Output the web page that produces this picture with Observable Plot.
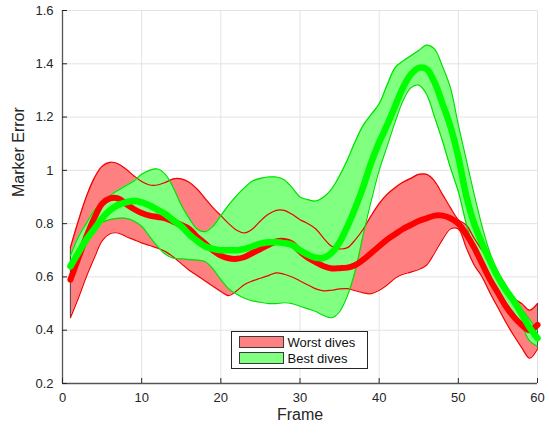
<!DOCTYPE html>
<html>
<head>
<meta charset="utf-8">
<script src="https://cdn.jsdelivr.net/npm/d3@7"></script>
<script src="https://cdn.jsdelivr.net/npm/@observablehq/plot@0.6"></script>
<style>
  html, body { margin: 0; padding: 0; background: #fff; }
  svg { display: block; }
</style>
</head>
<body>
<div id="chart"></div>
<script>
// Frame index of each sample
const frames = d3.range(1, 61);

// Worst dives: mean marker error and the shaded band around it
const worstMean = [
  0.59, 0.67, 0.75, 0.82, 0.875, 0.895, 0.895, 0.875, 0.855, 0.84,
  0.83, 0.825, 0.82, 0.807, 0.795, 0.78, 0.75, 0.725, 0.70, 0.68,
  0.67, 0.668, 0.675, 0.69, 0.705, 0.72, 0.733, 0.735, 0.725, 0.695,
  0.672, 0.655, 0.64, 0.632, 0.633, 0.635, 0.645, 0.665, 0.69, 0.715,
  0.74, 0.76, 0.78, 0.795, 0.81, 0.82, 0.83, 0.83, 0.82, 0.80,
  0.76, 0.71, 0.65, 0.59, 0.54, 0.49, 0.45, 0.42, 0.40, 0.42
];
const worstUpper = [
  0.71, 0.81, 0.90, 0.97, 1.015, 1.03, 1.025, 1.005, 0.98, 0.958,
  0.945, 0.945, 0.955, 0.968, 0.968, 0.955, 0.93, 0.895, 0.86, 0.83,
  0.80, 0.775, 0.765, 0.78, 0.81, 0.835, 0.85, 0.85, 0.835, 0.815,
  0.80, 0.78, 0.745, 0.715, 0.705, 0.71, 0.74, 0.78, 0.83, 0.875,
  0.91, 0.935, 0.955, 0.97, 0.985, 0.985, 0.96, 0.91, 0.86, 0.815,
  0.795, 0.745, 0.70, 0.65, 0.60, 0.555, 0.52, 0.50, 0.475, 0.50
];
const worstLower = [
  0.447, 0.52, 0.60, 0.67, 0.735, 0.762, 0.765, 0.752, 0.74, 0.728,
  0.718, 0.708, 0.695, 0.675, 0.65, 0.625, 0.605, 0.585, 0.565, 0.545,
  0.53, 0.548, 0.572, 0.585, 0.595, 0.605, 0.615, 0.61, 0.60, 0.585,
  0.57, 0.555, 0.548, 0.55, 0.555, 0.556, 0.548, 0.54, 0.537, 0.55,
  0.57, 0.595, 0.61, 0.618, 0.628, 0.645, 0.69, 0.74, 0.78, 0.78,
  0.71, 0.645, 0.60, 0.54, 0.485, 0.43, 0.38, 0.335, 0.295, 0.33
];

// Best dives: mean marker error and the shaded band around it
const bestMean = [
  0.64, 0.69, 0.74, 0.78, 0.82, 0.85, 0.87, 0.88, 0.885, 0.88,
  0.868, 0.852, 0.835, 0.812, 0.79, 0.76, 0.735, 0.715, 0.705, 0.70,
  0.70, 0.70, 0.705, 0.715, 0.725, 0.73, 0.73, 0.727, 0.72, 0.70,
  0.683, 0.672, 0.672, 0.69, 0.73, 0.79, 0.86, 0.94, 1.03, 1.105,
  1.17, 1.24, 1.31, 1.36, 1.385, 1.38, 1.33, 1.25, 1.165, 1.05,
  0.905, 0.80, 0.725, 0.66, 0.60, 0.55, 0.51, 0.46, 0.41, 0.37
];
const bestUpper = [
  0.68, 0.75, 0.80, 0.85, 0.88, 0.905, 0.925, 0.942, 0.96, 0.985,
  1.00, 1.005, 0.985, 0.935, 0.87, 0.82, 0.78, 0.77, 0.79, 0.83,
  0.87, 0.905, 0.935, 0.96, 0.97, 0.975, 0.975, 0.965, 0.935, 0.90,
  0.89, 0.885, 0.90, 0.93, 0.98, 1.04, 1.11, 1.17, 1.21, 1.25,
  1.32, 1.385, 1.41, 1.43, 1.45, 1.47, 1.455, 1.39, 1.31, 1.17,
  1.04, 0.91, 0.79, 0.69, 0.62, 0.57, 0.525, 0.48, 0.44, 0.40
];
const bestLower = [
  0.60, 0.68, 0.735, 0.78, 0.805, 0.815, 0.82, 0.82, 0.81, 0.79,
  0.752, 0.715, 0.685, 0.67, 0.668, 0.665, 0.663, 0.658, 0.63, 0.59,
  0.555, 0.535, 0.52, 0.51, 0.505, 0.50, 0.50, 0.503, 0.50, 0.49,
  0.48, 0.47, 0.455, 0.447, 0.47, 0.53, 0.625, 0.76, 0.886, 1.00,
  1.09, 1.18, 1.26, 1.31, 1.32, 1.285, 1.20, 1.11, 1.01, 0.92,
  0.80, 0.705, 0.635, 0.585, 0.55, 0.50, 0.465, 0.42, 0.36, 0.34
];

// Axis ticks and labels
const xTicks = [0, 10, 20, 30, 40, 50, 60];
const yTicks = [0.2, 0.4, 0.6, 0.8, 1, 1.2, 1.4, 1.6];
const yTickLabels = ["0.2", "0.4", "0.6", "0.8", "1", "1.2", "1.4", "1.6"];
const xLabel = "Frame";
const yLabel = "Marker Error";

// Legend entries
const seriesNames = ["Worst dives", "Best dives"];
const seriesFills = ["#ff8080", "#80ff80"];
const seriesLines = ["#ff0000", "#00ff00"];
const bandEdges = ["#f00000", "#00e000"];

const rows = frames.map((f, i) => ({
  frame: f,
  wm: worstMean[i], wu: worstUpper[i], wl: worstLower[i],
  bm: bestMean[i], bu: bestUpper[i], bl: bestLower[i]
}));
const ends = [rows[0], rows[rows.length - 1]];

const W = 549, H = 435;
const mL = 62, mR = 12, mT = 10, mB = 52;
const plotW = W - mL - mR, plotH = H - mT - mB;
const ink = "#262626";
const font = "'Liberation Sans', Arial, Helvetica, sans-serif";
const curve = "catmull-rom";

const chart = Plot.plot({
  width: W,
  height: H,
  marginLeft: mL,
  marginRight: mR,
  marginTop: mT,
  marginBottom: mB,
  x: {domain: [0, 60]},
  y: {domain: [0.2, 1.6]},
  style: {
    fontFamily: font,
    fontSize: "13px",
    color: ink,
    background: "#fff"
  },
  marks: [
    // grid
    Plot.gridX(xTicks, {stroke: "#e3e3e3", strokeOpacity: 1}),
    Plot.gridY(yTicks, {stroke: "#e3e3e3", strokeOpacity: 1}),

    // shaded bands
    Plot.areaY(rows, {x: "frame", y1: "wl", y2: "wu", fill: seriesFills[0], curve}),
    Plot.areaY(rows, {x: "frame", y1: "bl", y2: "bu", fill: seriesFills[1], curve}),

    // band closing edges at the first and last frame
    Plot.ruleX(ends, {x: "frame", y1: "wl", y2: "wu", stroke: "#4a4a4a", strokeWidth: 1}),

    // band outlines
    Plot.lineY(rows, {x: "frame", y: "wu", stroke: bandEdges[0], strokeWidth: 1.2, curve}),
    Plot.lineY(rows, {x: "frame", y: "wl", stroke: bandEdges[0], strokeWidth: 1.2, curve}),
    Plot.lineY(rows, {x: "frame", y: "bu", stroke: bandEdges[1], strokeWidth: 1.2, curve}),
    Plot.lineY(rows, {x: "frame", y: "bl", stroke: bandEdges[1], strokeWidth: 1.2, curve}),

    // mean curves
    Plot.lineY(rows, {x: "frame", y: "wm", stroke: seriesLines[0], strokeWidth: 6, curve}),
    Plot.lineY(rows, {x: "frame", y: "bm", stroke: seriesLines[1], strokeWidth: 6.5, curve}),

    // axis lines with inward ticks
    Plot.ruleX([0], {stroke: "#555", strokeWidth: 1.3}),
    Plot.ruleY([0.2], {stroke: "#555", strokeWidth: 1.3}),
    Plot.tickX(xTicks, {x: d => d, insetTop: plotH - 5, stroke: ink}),
    Plot.tickY(yTicks, {y: d => d, insetRight: plotW - 5, stroke: ink}),

    // tick labels
    Plot.axisX(xTicks, {tickSize: 0, tickPadding: 9, label: null, fontSize: 13, fill: ink}),
    Plot.axisY(yTicks, {
      tickSize: 0, tickPadding: 9, label: null, fontSize: 13, fill: ink,
      tickFormat: d => yTickLabels[yTicks.indexOf(d)]
    }),

    // axis titles
    Plot.text([xLabel], {text: d => d, frameAnchor: "bottom", dy: 36, fontSize: 16, fill: ink}),
    Plot.text([yLabel], {text: d => d, frameAnchor: "left", rotate: -90, dx: -44, fontSize: 16, fill: ink})
  ]
});

// Legend box inside the axes
const svg = d3.select(chart);
const lg = svg.append("g")
  .attr("transform", "translate(231.5,331.5)")
  .attr("text-anchor", "start");
lg.append("rect")
  .attr("width", 136).attr("height", 37)
  .attr("fill", "#fff").attr("stroke", ink).attr("stroke-width", 1);
seriesNames.forEach((name, i) => {
  lg.append("rect")
    .attr("x", 8).attr("y", 5 + i * 16)
    .attr("width", 44).attr("height", 11)
    .attr("fill", seriesFills[i]).attr("stroke", "#3a3a3a").attr("stroke-width", 1);
  lg.append("text")
    .attr("x", 56).attr("y", 11 + i * 16)
    .attr("dy", "0.35em")
    .attr("text-anchor", "start")
    .attr("font-family", font)
    .attr("font-size", 13)
    .attr("fill", "#111")
    .text(name);
});

document.getElementById("chart").appendChild(chart);
</script>
</body>
</html>
